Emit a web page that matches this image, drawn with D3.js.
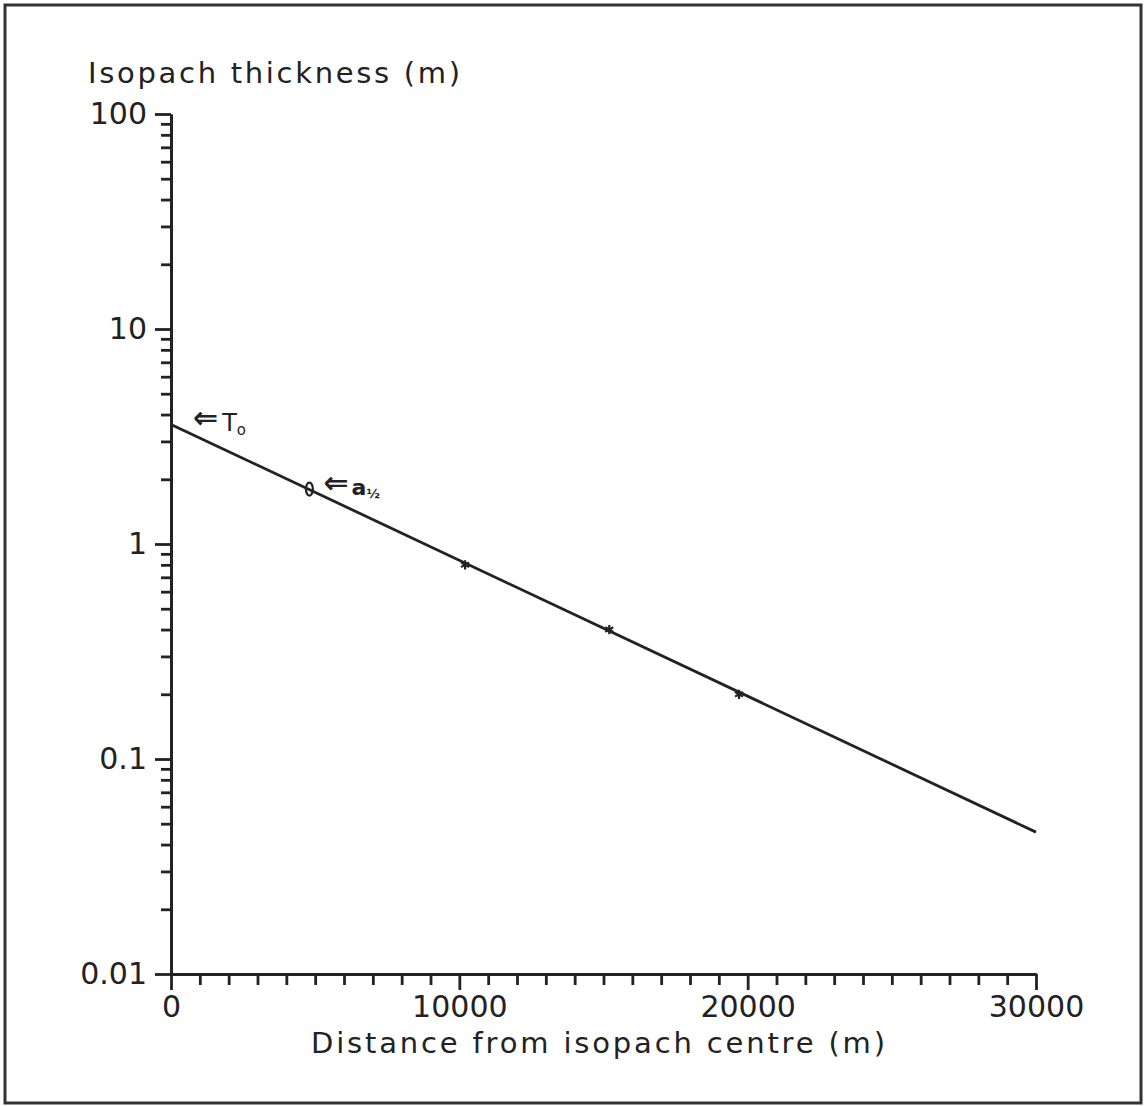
<!DOCTYPE html>
<html lang="en">
	<head>
		<meta charset="utf-8">
		<title>Isopach thickness vs distance</title>
		<script type="text/javascript" src="https://cdn.jsdelivr.net/npm/d3@7"></script>
		<style type="text/css">
			body { margin: 0; background: #fff; }
			svg text { font-family: "DejaVu Sans", sans-serif; fill: #222; }
		</style>
	</head>
	<body>
		<script type="text/javascript">

			//Width and height
			var w = 1145;
			var h = 1106;

			//Data
			var pointDist = [10200, 15200, 19700];
			var pointThick = [0.8, 0.4, 0.2];
			var fitDist = [0, 30000];
			var fitThick = [3.6, 0.0457];
			var halfDist = [4800];
			var halfThick = [1.8];
			var xMajorTicks = [0, 10000, 20000, 30000];
			var yMajorTicks = [0.01, 0.1, 1, 10, 100];
			var yTickLabels = ["0.01", "0.1", "1", "10", "100"];

			//Plot area (note: "top" is taken by window.top)
			var plotLeft = 171, plotRight = 1036, plotTop = 114, plotBottom = 974;

			var xScale = d3.scaleLinear().domain([0, 30000]).range([plotLeft, plotRight]);
			var yScale = d3.scaleLog().domain([0.01, 100]).range([plotBottom, plotTop]);

			//minor ticks
			var xMinor = d3.range(0, 30001, 1000).filter(function(d) { return d % 10000 != 0; });
			var yMinor = [];
			for (var p = -2; p < 2; p++) {
				for (var m = 2; m < 10; m++) {
					yMinor.push(m * Math.pow(10, p));
				}
			}

			var svg = d3.select("body")
						.append("svg")
						.attr("width", w)
						.attr("height", h);

			//frame
			svg.append("rect")
			   .attr("x", 5)
			   .attr("y", 5)
			   .attr("width", 1136)
			   .attr("height", 1098)
			   .attr("fill", "white")
			   .attr("stroke", "#333")
			   .attr("stroke-width", 3);

			//Y axis
			svg.append("g")
				.attr("transform", "translate(" + plotLeft + ",0)")
				.call(d3.axisLeft(yScale).tickValues(yMinor).tickSize(10).tickSizeOuter(0).tickFormat(""));
			svg.append("g")
				.attr("transform", "translate(" + plotLeft + ",0)")
				.call(d3.axisLeft(yScale).tickValues(yMajorTicks).tickSize(16).tickSizeOuter(0).tickPadding(8)
					.tickFormat(function(d, i) { return yTickLabels[i]; }));

			//X axis
			svg.append("g")
				.attr("transform", "translate(0," + plotBottom + ")")
				.call(d3.axisBottom(xScale).tickValues(xMinor).tickSize(11).tickSizeOuter(0).tickFormat(""));
			svg.append("g")
				.attr("transform", "translate(0," + plotBottom + ")")
				.call(d3.axisBottom(xScale).tickValues(xMajorTicks).tickSize(16).tickSizeOuter(0).tickPadding(6)
					.tickFormat(d3.format("d")));

			svg.selectAll(".domain, .tick line")
			   .attr("stroke", "#222")
			   .attr("stroke-width", 2.8);
			svg.selectAll(".tick text")
			   .attr("font-size", "30px")
			   .attr("font-family", "DejaVu Sans")
			   .attr("fill", "#222");

			//axis titles
			svg.append("text")
			   .attr("x", 88)
			   .attr("y", 83)
			   .attr("font-size", "29px")
			   .attr("textLength", 372)
			   .attr("lengthAdjust", "spacing")
			   .text("Isopach thickness (m)");

			svg.append("text")
			   .attr("x", 311)
			   .attr("y", 1053)
			   .attr("font-size", "29px")
			   .attr("textLength", 574)
			   .attr("lengthAdjust", "spacing")
			   .text("Distance from isopach centre (m)");

			//fitted line
			var line = d3.line()
				.x(function(d) { return xScale(d[0]); })
				.y(function(d) { return yScale(d[1]); });

			svg.append("path")
			   .datum(d3.zip(fitDist, fitThick))
			   .attr("d", line)
			   .attr("fill", "none")
			   .attr("stroke", "#222")
			   .attr("stroke-width", 2.8);

			//data points
			svg.selectAll(".pt")
			   .data(d3.zip(pointDist, pointThick))
			   .enter()
			   .append("path")
			   .attr("class", "pt")
			   .attr("transform", function(d) {
			   		return "translate(" + xScale(d[0]) + "," + yScale(d[1]) + ")";
			   })
			   .attr("d", d3.symbol(d3.symbolAsterisk, 60))
			   .attr("fill", "none")
			   .attr("stroke", "#222")
			   .attr("stroke-width", 2.2);

			//half-thickness marker
			svg.selectAll(".half")
			   .data(d3.zip(halfDist, halfThick))
			   .enter()
			   .append("ellipse")
			   .attr("class", "half")
			   .attr("cx", function(d) { return xScale(d[0]); })
			   .attr("cy", function(d) { return yScale(d[1]); })
			   .attr("rx", 3.5)
			   .attr("ry", 6.5)
			   .attr("fill", "none")
			   .attr("stroke", "#222")
			   .attr("stroke-width", 2.2);

			//annotations
			var t0 = svg.append("text")
			   .attr("x", xScale(fitDist[0]) + 22)
			   .attr("y", yScale(fitThick[0]) + 4);
			t0.append("tspan").attr("font-size", "30px").attr("font-weight", "bold").text("\u21D0");
			t0.append("tspan").attr("font-size", "24px").attr("dx", 4).attr("dy", 3).text("T");
			t0.append("tspan").attr("font-size", "15px").attr("dy", 4).text("o");

			var ah = svg.append("text")
			   .attr("x", xScale(halfDist[0]) + 14)
			   .attr("y", yScale(halfThick[0]) + 4)
			   .attr("font-weight", "bold");
			ah.append("tspan").attr("font-size", "30px").text("\u21D0");
			ah.append("tspan").attr("font-size", "22px").attr("dx", 3).attr("dy", 2).text("a");
			ah.append("tspan").attr("font-size", "13px").attr("dy", 3).text("\u00BD");

		</script>
	</body>
</html>
